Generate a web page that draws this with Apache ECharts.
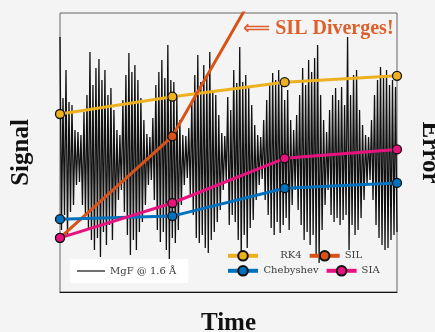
<!DOCTYPE html>
<html>
<head>
<meta charset="utf-8">
<script src="https://cdn.jsdelivr.net/npm/echarts@6/dist/echarts.min.js"></script>
<style>
html,body{margin:0;padding:0;background:#f4f4f4;}
#c{width:435px;height:332px;}
</style>
</head>
<body>
<div id="c"></div>
<script>
// Time positions of the error samples
const errTime = [0, 1, 2, 3];
// Error series (arbitrary units, 0..100 axis)
const rk4  = [63.8, 70.0, 75.2, 77.5];
const sil  = [19.4, 55.8, 126.1, 220.0];
const cheb = [26.1, 27.2, 37.2, 39.1];
const sia  = [19.4, 31.9, 47.9, 51.1];
// Signal samples (alternating crest / trough)
const signal = [
 1.15,-0.78, 0.54,-0.63, 0.82,-0.83, 0.50,-0.60, 0.47,-0.53, 0.22,-0.33, 0.20,-0.30, 0.17,-0.53,
 0.40,-0.63, 0.57,-0.76, 1.00,-0.88, 0.67,-0.98, 0.84,-0.86, 0.93,-1.05, 0.72,-0.80, 0.82,-0.93,
 0.57,-0.73, 0.64,-0.88, 0.42,-0.66, 0.22,-0.48, 0.17,-0.38, 0.52,-0.60, 0.77,-0.83, 0.99,-1.03,
 0.80,-0.88, 0.87,-0.98, 0.72,-0.80, 0.54,-0.70, 0.32,-0.53, 0.18,-0.33, 0.15,-0.28, 0.34,-0.48,
 0.67,-0.78, 0.80,-0.90, 0.92,-0.80, 0.74,-0.98, 1.07,-1.08, 0.72,-0.86, 0.70,-0.91, 0.55,-0.78,
 0.32,-0.53, 0.17,-0.33, 0.16,-0.26, 0.24,-0.43, 0.52,-0.63, 0.77,-0.86, 0.97,-0.91, 0.70,-0.83,
 0.87,-0.96, 0.77,-1.01, 1.00,-0.88, 0.62,-0.80, 0.57,-0.70, 0.37,-0.58, 0.19,-0.38, 0.16,-0.28,
 0.55,-0.73, 0.42,-0.63, 0.82,-0.70, 0.69,-0.88, 1.05,-1.05, 0.70,-0.83, 0.77,-0.96, 0.64,-0.76,
 0.47,-0.68, 0.27,-0.48, 0.17,-0.33, 0.15,-0.27, 0.32,-0.48, 0.52,-0.63, 0.67,-0.76, 0.79,-0.83,
 0.72,-0.70, 0.82,-0.81, 0.67,-0.73, 0.52,-0.66, 0.62,-0.78, 0.32,-0.53, 0.22,-0.38, 0.37,-0.58,
 0.57,-0.73, 0.84,-0.88, 0.67,-0.80, 0.92,-0.93, 0.80,-0.83, 0.94,-1.03, 1.07,-1.11, 0.57,-0.78,
 0.32,-0.53, 0.20,-0.38, 0.42,-0.63, 0.57,-0.70, 0.64,-0.66, 0.52,-0.73, 0.65,-0.68, 0.47,-0.63,
 1.15,-0.98, 0.57,-0.73, 0.77,-0.83, 0.82,-0.78, 0.42,-0.66, 0.27,-0.48, 0.17,-0.33, 0.15,-0.28,
 0.32,-0.48, 0.57,-0.73, 0.72,-0.86, 0.85,-0.93, 0.77,-0.98, 0.82,-0.96, 0.67,-0.88, 0.72,-0.83,
 0.65,-0.80
];
const tMax = 3;
const signalData = signal.map((v, i) => [i * tMax / (signal.length - 1), v]);
const pair = (arr) => arr.map((v, i) => [errTime[i], v]);

const colors = { RK4: '#EDB120', SIL: '#D95319', Chebyshev: '#0072BD', SIA: '#E8127F' };
const axisNameStyle = { fontFamily: 'Liberation Serif', fontWeight: 'bold', fontSize: 25, color: '#111' };
const legTxt = { fontFamily: 'DejaVu Serif', fontSize: 10, color: '#3a3a3a' };

function errSeries(name, data) {
  return {
    name: name, type: 'line', xAxisIndex: 0, yAxisIndex: 1,
    data: pair(data), symbol: 'circle', symbolSize: 9, showSymbol: true,
    lineStyle: { color: colors[name], width: 3 },
    itemStyle: { color: colors[name], borderColor: '#111', borderWidth: 1.3 },
    z: 5, animation: false, clip: true
  };
}

const chart = echarts.init(document.getElementById('c'), null, { renderer: 'canvas' });
chart.setOption({
  backgroundColor: '#f4f4f4',
  animation: false,
  title: {
    text: '{a|⟸} {b|SIL Diverges!}',
    left: 238, top: 14,
    textStyle: {
      rich: {
        a: { fontFamily: 'DejaVu Sans', fontSize: 19, color: '#DD6030' },
        b: { fontFamily: 'Liberation Serif', fontWeight: 'bold', fontSize: 20, color: '#DD5F2A' }
      }
    }
  },
  grid: { left: 60, right: 38, top: 13, bottom: 40, outerBoundsMode: 'none', containLabel: false,
          show: true, borderColor: '#666', borderWidth: 1, backgroundColor: 'transparent' },
  xAxis: {
    type: 'value', min: 0, max: tMax,
    name: 'Time', nameLocation: 'middle', nameGap: 19, nameTextStyle: axisNameStyle,
    axisLine: { show: true, onZero: false, lineStyle: { color: '#111', width: 1 } },
    axisTick: { show: false }, axisLabel: { show: false }, splitLine: { show: false }
  },
  yAxis: [
    {
      type: 'value', min: -1.40, max: 1.39, position: 'left',
      name: 'Signal', nameLocation: 'middle', nameGap: 26, nameRotate: 90, nameTextStyle: axisNameStyle,
      axisLine: { show: false }, axisTick: { show: false }, axisLabel: { show: false }, splitLine: { show: false }
    },
    {
      type: 'value', min: 0, max: 100, position: 'right',
      name: 'Error', nameLocation: 'middle', nameGap: 20, nameRotate: -90, nameTextStyle: axisNameStyle,
      axisLine: { show: false }, axisTick: { show: false }, axisLabel: { show: false }, splitLine: { show: false }
    }
  ],
  legend: [
    {
      data: [{ name: 'MgF @ 1.6 Å', icon: 'rect' }], left: 70, top: 259, selectedMode: false,
      backgroundColor: '#ffffff', padding: [7, 12, 7, 7],
      itemWidth: 28, itemHeight: 1.2, itemStyle: { color: '#111', borderWidth: 0 }, textStyle: legTxt
    },
    {
      data: ['RK4', 'SIL'], left: 226, top: 250, selectedMode: false, padding: 0,
      itemWidth: 30, itemHeight: 12, itemGap: 6, lineStyle: { width: 4 },
      formatter: n => (n === 'RK4' ? '{c|' + n + '}' : '{l|' + n + '}'),
      textStyle: Object.assign({}, legTxt, { rich: { c: Object.assign({ width: 56, align: 'center' }, legTxt), l: Object.assign({}, legTxt) } })
    },
    {
      data: ['Chebyshev', 'SIA'], left: 226, top: 265, selectedMode: false, padding: 0,
      itemWidth: 30, itemHeight: 12, itemGap: 6, lineStyle: { width: 4 },
      formatter: n => (n === 'Chebyshev' ? '{c|' + n + '}' : '{l|' + n + '}'),
      textStyle: Object.assign({}, legTxt, { rich: { c: Object.assign({ width: 56, align: 'center' }, legTxt), l: Object.assign({}, legTxt) } })
    }
  ],
  series: [
    {
      name: 'MgF @ 1.6 Å', type: 'line', xAxisIndex: 0, yAxisIndex: 0,
      data: signalData, symbol: 'none', silent: true,
      lineStyle: { color: '#111', width: 1.3 }, itemStyle: { color: '#111' },
      z: 2, animation: false
    },
    errSeries('RK4', rk4),
    errSeries('SIL', sil),
    errSeries('Chebyshev', cheb),
    errSeries('SIA', sia)
  ]
});
</script>
</body>
</html>
